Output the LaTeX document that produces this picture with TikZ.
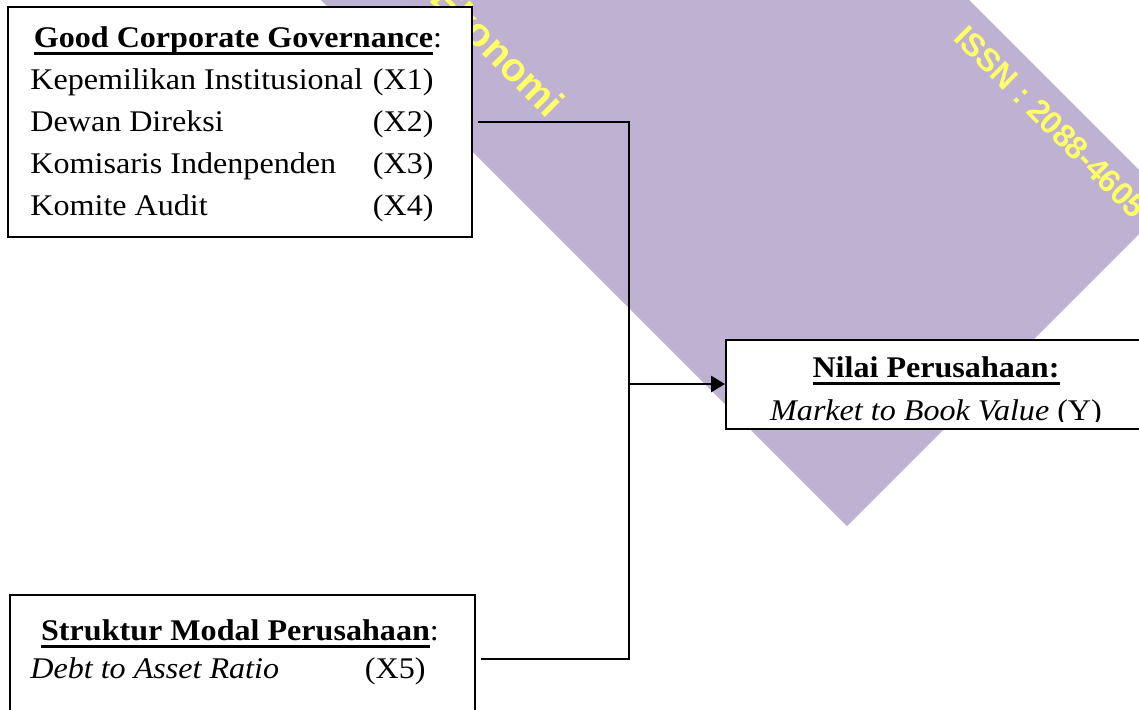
\documentclass[tikz,border=0pt]{standalone}
\usepackage{fontspec}
\setmainfont{Liberation Serif}[FakeStretch=1.07]
\newfontfamily\wmfont{Liberation Sans}
\usetikzlibrary{arrows.meta}
\definecolor{bandpurple}{RGB}{191,177,209}
\definecolor{wmyellow}{RGB}{255,255,102}
\newcommand{\ulined}[1]{\leavevmode\setbox0=\hbox{#1}\rlap{\rule[-3.8pt]{\wd0}{1.5pt}}\box0}

\begin{document}
\begin{tikzpicture}[x=0.5pt, y=-0.5pt,
  box/.style={draw, fill=white, line width=1pt, rectangle, inner sep=0pt},
  txt/.style={font=\fontsize{15}{18}\selectfont, inner sep=0pt},
  hd/.style={txt, font=\fontsize{15}{18}\selectfont\bfseries, anchor=base},
  wm/.style={font=\wmfont\bfseries\fontsize{16}{19}\selectfont, text=wmyellow, rotate=-45, inner sep=0pt},
  link/.style={line width=1pt},
  arrowlink/.style={line width=1.4pt, -{Triangle[length=7pt, width=8pt]}}]
\useasboundingbox (0,0) rectangle (1139,709);
\clip (0,0) rectangle (1139,709);
\fill[bandpurple] (250,-71) -- (847,526) -- (1171,202) -- (900,-69) -- cycle;
\node[wm, anchor=base east, font=\wmfont\bfseries\fontsize{20}{24}\selectfont] (wm1) at (548,120) {Ekonomi};
\node[wm, anchor=base west] (wm2) at (952,39) {ISSN : 2088-4605};

\node[box, minimum width=232pt, minimum height=115pt] (gcg) at (240,122) {};
\node[box, minimum width=232.5pt, minimum height=64pt] (smp) at (242.5,659) {};
\node[box, minimum width=210pt, minimum height=44.5pt] (nilai) at (936,384) {};

\node[hd] (gcgh) at (238,47) {\ulined{Good Corporate Governance}\mdseries:};
\foreach \name/\code [count=\i] in {Kepemilikan Institusional/X1, Dewan Direksi/X2,
    Komisaris Indenpenden/X3, Komite Audit/X4} {
  \node[txt, anchor=base west] (var\i) at (30,47+42*\i) {\name};
  \node[txt, anchor=base east] (code\i) at (434,47+42*\i) {(\code)};
}
\node[hd] (smph) at (240,640) {\ulined{Struktur Modal Perusahaan}\mdseries:};
\node[txt, anchor=base west, font=\fontsize{15}{18}\selectfont\itshape] (dar) at (30,678) {Debt to Asset Ratio};
\node[txt, anchor=base east] (code5) at (426,678) {(X5)};

\node[hd] (nilaih) at (936,377) {\ulined{Nilai Perusahaan:}};
\begin{scope}
  \clip (726,340) rectangle (1139,421);
  \node[txt, anchor=base] (mbv) at (936,420) {\textit{Market to Book Value} (Y)};
\end{scope}

\coordinate (jx) at (629,0);
\coordinate (j) at (jx |- nilai.west);
\draw[link] ([xshift=2.5pt]gcg.east) -| (j);
\draw[link] ([xshift=2.5pt]smp.east) -| (j);
\draw[arrowlink] (j) -- (nilai.west);
\end{tikzpicture}
\end{document}
